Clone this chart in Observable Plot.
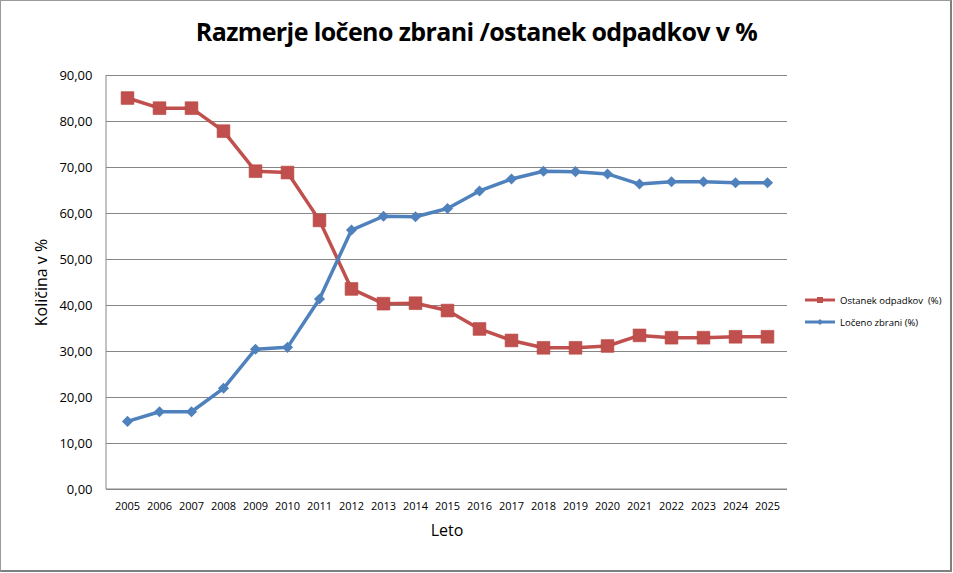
<!DOCTYPE html>
<html>
<head>
<meta charset="utf-8">
<script src="https://cdn.jsdelivr.net/npm/d3@7"></script>
<script src="https://cdn.jsdelivr.net/npm/@observablehq/plot@0.6"></script>
<style>
  html, body { margin: 0; padding: 0; background: #fff; }
  #wrap { position: relative; width: 953px; height: 573px; overflow: hidden; font-family: "Open Sans", sans-serif; }
  #frame { position: absolute; left: 0; top: 0; width: 949px; height: 569px; border: 1px solid #9a9a9a; border-right: 2px solid #7f7f7f; border-bottom: 2px solid #7f7f7f; pointer-events: none; }
  #title { position: absolute; left: 0; top: 14px; width: 953px; text-align: center; font-weight: bold; font-size: 25px; color: #000; letter-spacing: -0.6px; }
  #legend { position: absolute; left: 804px; top: 289px; font-size: 9.5px; color: #000; }
  .item { display: flex; align-items: center; height: 22px; white-space: pre; }
  .item svg { margin-right: 4px; }
  #chart { position: absolute; left: 0; top: 0; }
</style>
</head>
<body>
<div id="wrap">
  <div id="chart"></div>
  <div id="title"></div>
  <div id="legend"></div>
  <div id="frame"></div>
</div>
<script>
const titleText = "Razmerje ločeno zbrani /ostanek odpadkov v %";
const years = ["2005","2006","2007","2008","2009","2010","2011","2012","2013","2014","2015","2016","2017","2018","2019","2020","2021","2022","2023","2024","2025"];
const ostanek = [85.1, 82.9, 82.9, 77.9, 69.2, 68.9, 58.5, 43.6, 40.4, 40.5, 38.9, 34.9, 32.4, 30.8, 30.8, 31.2, 33.5, 33.0, 33.0, 33.2, 33.2];
const loceno  = [14.8, 16.9, 16.9, 22.0, 30.5, 30.9, 41.4, 56.4, 59.4, 59.3, 61.1, 64.9, 67.5, 69.2, 69.1, 68.6, 66.4, 66.9, 66.9, 66.7, 66.7];
const seriesNames = ["Ostanek odpadkov  (%)", "Ločeno zbrani (%)"];
const seriesColors = ["#C0504D", "#4F81BD"];
const yTicks = [0, 10, 20, 30, 40, 50, 60, 70, 80, 90];
const yLabel = "Količina v %";
const xLabel = "Leto";

document.getElementById("title").textContent = titleText;

const redData = years.map((y, i) => ({year: y, value: ostanek[i]}));
const blueData = years.map((y, i) => ({year: y, value: loceno[i]}));

const fmt = d => d.toFixed(2).replace(".", ",");

const chart = Plot.plot({
  width: 953,
  height: 573,
  marginLeft: 106,
  marginRight: 166,
  marginTop: 75,
  marginBottom: 84,
  style: { fontFamily: "Open Sans, sans-serif", background: "transparent" },
  x: { type: "point", domain: years, padding: 0.5 },
  y: { domain: [0, 90] },
  marks: [
    Plot.gridY(yTicks, { stroke: "#868686", strokeOpacity: 1, strokeWidth: 1 }),
    Plot.axisY(yTicks, { tickSize: 0, tickPadding: 14, tickFormat: fmt, fontSize: 13, label: yLabel, labelAnchor: "center", labelArrow: "none", labelOffset: 71, color: "#000" }),
    Plot.axisX({ tickSize: 0, tickPadding: 13, fontSize: 11, label: xLabel, labelAnchor: "center", labelArrow: "none", labelOffset: 46 }),
    Plot.lineY(redData, { x: "year", y: "value", stroke: seriesColors[0], strokeWidth: 3.5 }),
    Plot.dot(redData, { x: "year", y: "value", symbol: "square", r: 7.2, fill: seriesColors[0], stroke: "#b8473f", strokeWidth: 0.6 }),
    Plot.lineY(blueData, { x: "year", y: "value", stroke: seriesColors[1], strokeWidth: 3.5 }),
    Plot.dot(blueData, { x: "year", y: "value", symbol: "diamond2", r: 5, fill: seriesColors[1] })
  ]
});
document.getElementById("chart").appendChild(chart);

// axis lines
const svg = d3.select(chart);
svg.append("line").attr("x1", 106).attr("x2", 106).attr("y1", 75).attr("y2", 489).attr("stroke", "#868686");
svg.append("line").attr("x1", 106).attr("x2", 787).attr("y1", 489).attr("y2", 489).attr("stroke", "#868686");
svg.selectAll("g[aria-label='y-axis label'] text, g[aria-label='x-axis label'] text").style("font-size", "16px");

// legend
const legend = d3.select("#legend");
seriesNames.forEach((name, i) => {
  const item = legend.append("div").attr("class", "item");
  const s = item.append("svg").attr("width", 32).attr("height", 10);
  s.append("line").attr("x1", 1).attr("x2", 31).attr("y1", 5).attr("y2", 5).attr("stroke", seriesColors[i]).attr("stroke-width", 3);
  if (i === 0) s.append("rect").attr("x", 13).attr("y", 2).attr("width", 6).attr("height", 6).attr("fill", seriesColors[i]);
  else s.append("path").attr("d", "M16,2L19,5L16,8L13,5Z").attr("fill", seriesColors[i]);
  item.append("span").text(name);
});
</script>
</body>
</html>
